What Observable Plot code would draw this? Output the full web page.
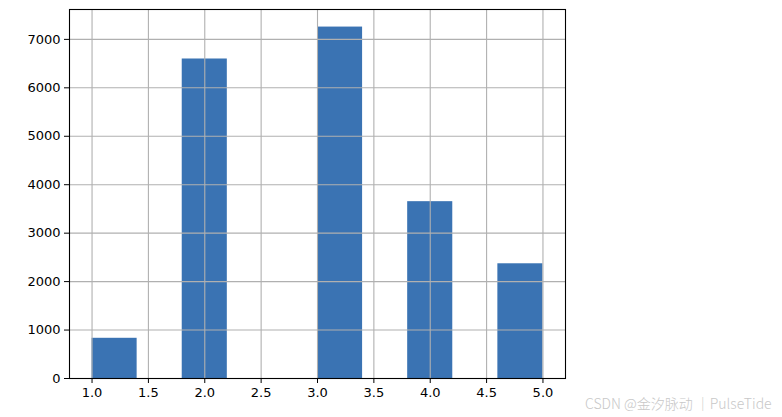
<!DOCTYPE html>
<html>
<head>
<meta charset="utf-8">
<script src="https://cdn.jsdelivr.net/npm/d3@7"></script>
<script src="https://cdn.jsdelivr.net/npm/@observablehq/plot@0.6"></script>
<style>
  html, body { margin: 0; padding: 0; background: #fff; }
  #wrap { position: relative; width: 782px; height: 417px; }
  #wm { position: absolute; left: 585px; top: 393px; font-family: "Noto Sans CJK SC", "DejaVu Sans", sans-serif; font-weight: 300; font-size: 14px; color: #c8c8c8; white-space: nowrap; }
</style>
</head>
<body>
<div id="wrap"><div id="wm">CSDN @金汐脉动 ｜PulseTide</div></div>
<script>
const binStart = [1.0, 1.8, 3.0, 3.8, 4.6];
const binEnd   = [1.4, 2.2, 3.4, 4.2, 5.0];
const counts   = [830, 6595, 7254, 3650, 2368];
const xTicks = [1.0, 1.5, 2.0, 2.5, 3.0, 3.5, 4.0, 4.5, 5.0];
const yTicks = [0, 1000, 2000, 3000, 4000, 5000, 6000, 7000];

const bars = binStart.map((s, i) => ({x1: s, x2: binEnd[i], y: counts[i]}));
const grid = "#b0b0b0";

const chart = Plot.plot({
  width: 782,
  height: 417,
  marginLeft: 69,
  marginRight: 217,
  marginTop: 9,
  marginBottom: 39,
  style: {fontFamily: "DejaVu Sans, sans-serif", fontSize: "13px", color: "#000", background: "#fff"},
  x: {domain: [0.8, 5.2], label: null},
  y: {domain: [0, d3.max(counts) * 1.05], label: null},
  marks: [
    Plot.rectY(bars, {x1: "x1", x2: "x2", y: "y", fill: "#3a73b3", insetLeft: 0, insetRight: 0}),
    Plot.ruleX(xTicks, {stroke: grid, strokeWidth: 1.1}),
    Plot.ruleY(yTicks, {stroke: grid, strokeWidth: 1.1}),
    Plot.frame({stroke: "#000", strokeWidth: 1.1}),
    Plot.axisX({ticks: xTicks, tickFormat: d3.format(".1f"), tickSize: 5, tickPadding: 4, label: null, fontSize: 13}),
    Plot.axisY({ticks: yTicks, tickFormat: d => String(d), tickSize: 5, tickPadding: 4, label: null, fontSize: 13})
  ]
});
document.getElementById("wrap").prepend(chart);
</script>
</body>
</html>
